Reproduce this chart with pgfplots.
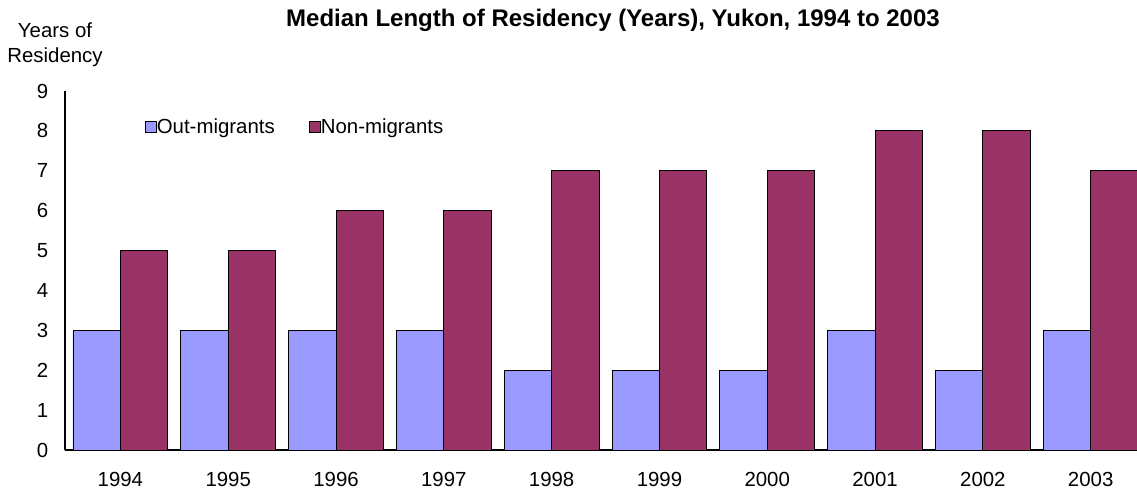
\documentclass[border=0pt]{standalone}
\usepackage{fontspec}
\setmainfont{Liberation Sans}
\usepackage{pgfplots}
\pgfplotsset{compat=1.18}
\definecolor{outmig}{HTML}{9999FF}
\definecolor{nonmig}{HTML}{993366}
\newcommand{\lbl}{\fontsize{15.3}{18.4}\selectfont}
\begin{document}
\begin{tikzpicture}
\begin{axis}[
  scale only axis,
  width=804pt, height=269.25pt,
  xmin=-0.514, xmax=9.43,
  ymin=0, ymax=9,
  axis x line*=bottom, axis y line*=left,
  axis line style={black, line width=0.8pt},
  xtick={0,...,9},
  xticklabels={1994,1995,1996,1997,1998,1999,2000,2001,2002,2003},
  ytick={0,...,9},
  major tick length=0pt,
  /pgf/number format/assume math mode=true,
  tick label style={font=\lbl},
  xticklabel style={yshift=-13pt},
  yticklabel style={xshift=-9pt},
  ybar, bar width=0.44,
  legend style={draw=none, fill=none, font=\lbl, at={(rel axis cs:0.071,0.9)}, anchor=west,
    legend columns=2, /tikz/every even column/.append style={column sep=24pt},
    /tikz/every odd column/.append style={column sep=-2pt}},
  legend image code/.code={\draw[#1, line width=0.6pt] (0pt,-4pt) rectangle (8pt,4pt);},
]
\addplot[fill=outmig, draw=black, line width=0.6pt, bar shift=-0.22] coordinates {
(0,3) (1,3) (2,3) (3,3) (4,2) (5,2) (6,2) (7,3) (8,2) (9,3)};
\addlegendentry{Out-migrants}
\addplot[fill=nonmig, draw=black, line width=0.6pt, bar shift=0.22] coordinates {
(0,5) (1,5) (2,6) (3,6) (4,7) (5,7) (6,7) (7,8) (8,8) (9,7)};
\addlegendentry{Non-migrants}
\end{axis}
\node[font=\bfseries\fontsize{18}{21}\selectfont] at (411pt,322pt) {Median Length of Residency (Years), Yukon, 1994 to 2003};
\node[font=\lbl, align=center] at (-7.5pt,303.75pt) {Years of\\Residency};
\pgfresetboundingbox
\path[use as bounding box] (-48.75pt,-32.25pt) rectangle (804pt,337.5pt);
\end{tikzpicture}
\end{document}
